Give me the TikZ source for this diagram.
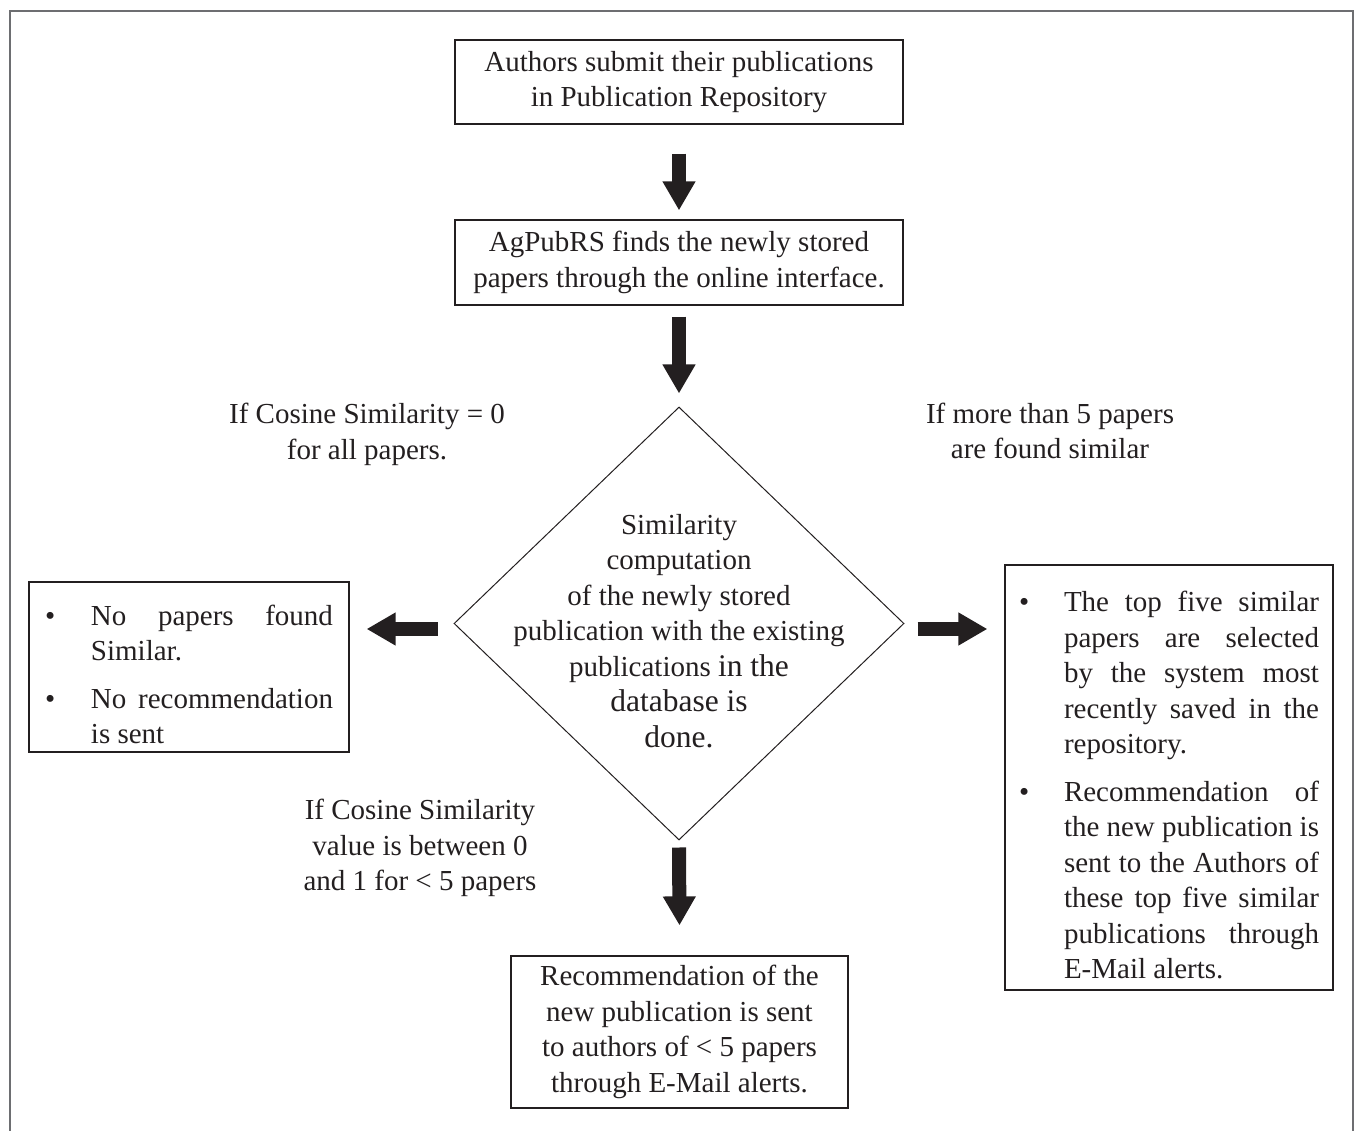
\documentclass[tikz,border=0pt]{standalone}
\usepackage{fontspec}
\setmainfont{Liberation Serif}
\usetikzlibrary{shapes.geometric,arrows.meta}
\definecolor{ink}{HTML}{231F20}
\definecolor{framegray}{HTML}{6D6E71}
\newcommand\dbig{\fontsize{31.5}{35.5}\selectfont}
\newenvironment{blist}[1]{\begin{list}{\textbullet}{%
  \setlength{\leftmargin}{#1}\setlength{\labelwidth}{#1}%
  \setlength{\labelsep}{0pt}\setlength{\itemindent}{0pt}%
  \setlength{\topsep}{0pt}\setlength{\partopsep}{0pt}%
  \setlength{\parsep}{0pt}\setlength{\itemsep}{12pt}%
  \setlength{\listparindent}{0pt}%
  \renewcommand{\makelabel}[1]{##1\hfil}}}{\end{list}}
\begin{document}
\begin{tikzpicture}[x=1pt,y=-1pt,
  font=\fontsize{29}{35.5}\selectfont, text=ink,
  box/.style={draw=ink, line width=1.2pt, inner sep=0pt},
  listbox/.style={box, align=justify},
  lbl/.style={align=center, inner sep=0pt},
  blk/.style={draw=ink, line width=14pt, -{Triangle[width=31pt,length=29pt]}}]
\useasboundingbox (0,0) rectangle (1355,1131);
\draw[framegray, line width=2pt] (10,1131) -- (10,11) -- (1353,11) -- (1353,1131);

\node[box, minimum width=448pt, minimum height=84pt, align=center] (b1) at (679,82)
  {Authors submit their publications\\in Publication Repository};
\node[box, minimum width=448pt, minimum height=85pt, align=center] (b2) at (679,262.5)
  {AgPubRS finds the newly stored\\papers through the online interface.};

\node[draw=ink, line width=1pt, diamond, minimum width=450pt, minimum height=433pt, inner sep=0pt] (dia) at (679,623.5) {};
\node[lbl] (diatext) at (679,631)
  {Similarity\\computation\\of the newly stored\\publication with the existing\\publications {\dbig in the}\\{\dbig database is}\\{\dbig done.}};

\node[listbox, minimum height=170pt, text width=288pt, inner xsep=16pt] (lb) at (189,667)
  {\begin{blist}{46pt}
   \item No papers found\linebreak Similar.
   \item No recommendation\linebreak is sent
   \end{blist}};

\node[listbox, minimum height=425pt, text width=300pt, inner xsep=14pt] (rb) at (1169,777.5)
  {\begin{blist}{45pt}
   \item The top five similar\linebreak papers are selected\linebreak by the system most\linebreak recently saved in the\linebreak repository.
   \item Recommendation of\linebreak the new publication is\linebreak sent to the Authors of\linebreak these top five similar\linebreak publications through\linebreak E-Mail alerts.
   \end{blist}};

\node[box, minimum width=337pt, minimum height=152pt, align=center] (bb) at (679.5,1032)
  {Recommendation of the\\new publication is sent\\to authors of < 5 papers\\through E-Mail alerts.};

\node[lbl] (l1) at (367,434.5) {If Cosine Similarity = 0\\for all papers.};
\node[lbl] (l2) at (1050,431) {If more than 5 papers\\are found similar};
\node[lbl] (l3) at (420,848) {If Cosine Similarity\\value is between 0\\and 1 for < 5 papers};

\draw[blk] ([yshift=-29pt]b1.south) -- ([yshift=9pt]b2.north);
\draw[blk] ([yshift=-11pt]b2.south) -- ([yshift=13pt]dia.north);
\draw[blk] ([yshift=-7pt]dia.south) -- ([yshift=30pt]bb.north);
\coordinate (la) at ([xshift=-16pt,yshift=-5.5pt]dia.west);
\draw[blk] (la) -- ([xshift=17pt]la -| lb.east);
\coordinate (ra) at ([xshift=13pt,yshift=-5.5pt]dia.east);
\draw[blk] (ra) -- ([xshift=-17pt]ra -| rb.west);
\end{tikzpicture}
\end{document}
